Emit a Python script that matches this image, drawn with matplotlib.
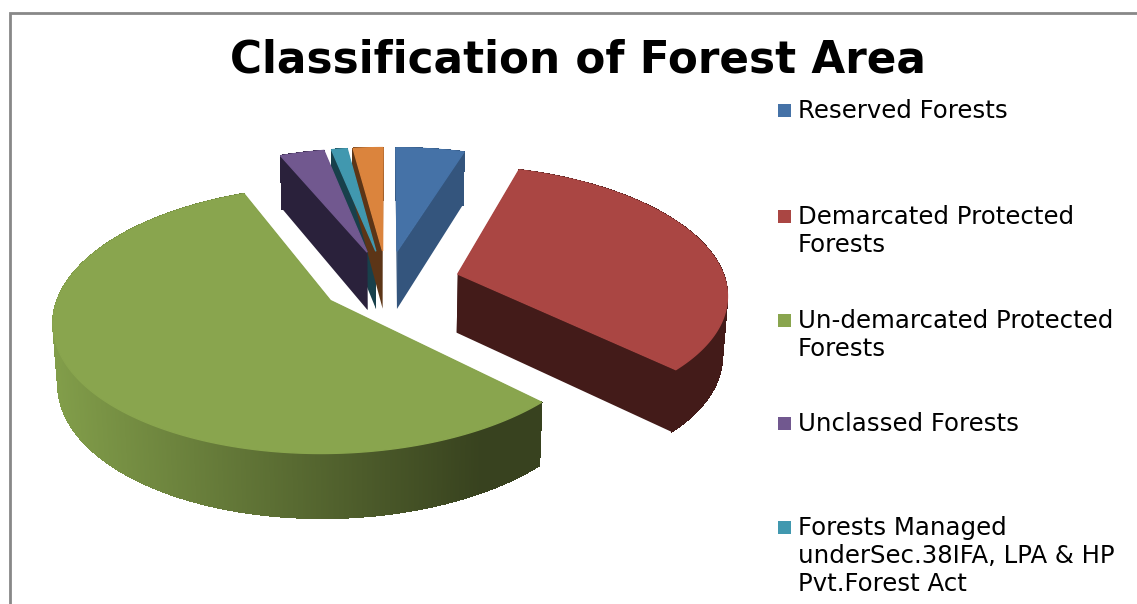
import numpy as np
import matplotlib
matplotlib.use("Agg")
import matplotlib.pyplot as plt
from matplotlib.patches import Polygon, Rectangle

# shares of forest area (percent)
categories = [
    "Reserved Forests",
    "Demarcated Protected\nForests",
    "Un-demarcated Protected\nForests",
    "Unclassed Forests",
    "Forests Managed\nunderSec.38IFA, LPA & HP\nPvt.Forest Act",
    "",
]
values = [4.8, 32.5, 56.4, 3.1, 1.1, 2.1]
top_colors = ["#4572A7", "#AA4643", "#89A54E", "#71588F", "#4198AF", "#DB843D"]
side_colors = ["#34557D", "#431B19", "#37411E", "#2A213B", "#18404B", "#5C3517"]

title = "Classification of Forest Area"
legend_y = [110, 216, 320, 423, 527]

# fake 3d projection, everything in image pixels
cx, cy = 387, 282.5
rx, ry = 268, 126
persp = 0.14
explode = [0.26, 0.275, 0.25, 0.26, 0.26, 0.26]


def project(u, v):
    s = 1 / (1 + persp * v)
    return cx + rx * u * s, cy - ry * v * s


def drop(x, y, v):
    # bottom face: a bit smaller and further down
    return cx + (x - cx) * 0.985, y + 59 - 5 * v


fig = plt.figure(figsize=(11.37, 6.04), dpi=100)
ax = fig.add_axes([0, 0, 1, 1])
ax.set_xlim(0, 1137)
ax.set_ylim(604, 0)
ax.axis("off")

# angles clockwise from 12 o'clock
edges = np.cumsum([0] + values) / sum(values) * 2 * np.pi

for i in [0, 4, 5, 3, 1, 2]:
    a0, a1 = edges[i], edges[i + 1]
    mid = (a0 + a1) / 2
    ou, ov = explode[i] * np.sin(mid), explode[i] * np.cos(mid)
    t = np.linspace(a0, a1, max(int(values[i] * 12), 6))
    u = ou + np.sin(t)
    v = ov + np.cos(t)
    x, y = project(u, v)
    xb, yb = drop(x, y, v)
    ax_, ay_ = project(ou, ov)
    axb, ayb = drop(ax_, ay_, ov)

    # radial walls
    ax.add_patch(Polygon([(ax_, ay_), (x[0], y[0]), (xb[0], yb[0]), (axb, ayb)],
                         fc=side_colors[i], ec="none"))
    ax.add_patch(Polygon([(ax_, ay_), (x[-1], y[-1]), (xb[-1], yb[-1]), (axb, ayb)],
                         fc=side_colors[i], ec="none"))

    # outer wall, strips so the big slice can fade across x
    for j in range(len(t) - 1):
        c = side_colors[i]
        if i == 2:
            f = np.clip((x[j] - 50) / 430, 0, 1)
            c = tuple((1 - f) * np.array([0.51, 0.62, 0.29]) + f * np.array([0.22, 0.26, 0.12]))
        ax.add_patch(Polygon([(x[j], y[j]), (x[j + 1], y[j + 1]), (xb[j + 1], yb[j + 1]), (xb[j], yb[j])],
                             fc=c, ec=c, lw=0.6, antialiased=False))

    # top face
    ax.add_patch(Polygon(np.column_stack([np.r_[ax_, x], np.r_[ay_, y]]),
                         fc=top_colors[i], ec=top_colors[i], lw=1.0, zorder=3))

# frame
ax.plot([10, 10, 1137], [604, 13, 13], color="#888888", lw=2, solid_joinstyle="miter", zorder=5)

ax.text(578, 60, title, fontsize=31.5, fontweight="bold", family="DejaVu Sans", ha="center", va="center")

for name, color, yy in zip(categories[:5], top_colors, legend_y):
    ax.add_patch(Rectangle((778, yy - 6), 13, 13, fc=color, ec="none"))
    ax.text(798, yy - 11, name, fontsize=17.6, family="DejaVu Sans", ha="left", va="top", linespacing=1.22)

fig.savefig("out.png", dpi=100)
